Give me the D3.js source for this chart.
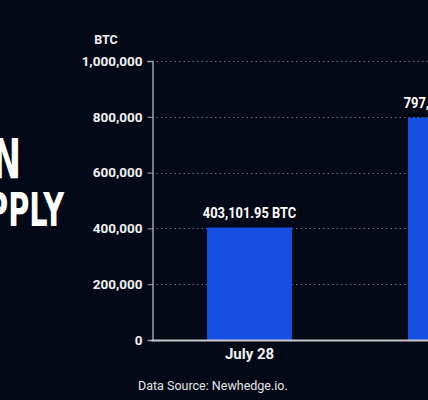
<!DOCTYPE html>
<html>
<head>
<meta charset="utf-8">
<script src="https://cdn.jsdelivr.net/npm/d3@7"></script>
<style>
  html, body { margin: 0; padding: 0; background: #040917; overflow: hidden; }
  svg { display: block; }
</style>
</head>
<body>
<svg id="chart" width="428" height="400"></svg>
<script>
'use strict';

// data
var categories = ['July 28', 'Today'];
var supply = [403101.95, 797000];
var yTicks = [0, 200000, 400000, 600000, 800000, 1000000];
var titleLines = ['BITCOIN', 'SUPPLY'];

var svg = d3.select('#chart');
var W = 428, H = 400;

svg.append('rect').attr('width', W).attr('height', H).attr('fill', '#040917');

var y = d3.scaleLinear().domain([0, 1000000]).range([340, 61]);
var x = d3.scaleBand().domain(categories)
	.range([152, 548]).paddingInner(0.577).paddingOuter(0.274);

var fmt = d3.format(',');
var fmtVal = d3.format(',.2f');

// big title, mostly cut off on the left (squeezed to look condensed)
svg.append('text')
	.attr('transform', 'translate(21,178) scale(0.62,1)')
	.attr('text-anchor', 'end')
	.style('font-family', '"DejaVu Sans", sans-serif')
	.style('font-weight', 700).style('font-size', '55px')
	.attr('fill', '#ffffff')
	.text(titleLines[0]);
svg.append('text')
	.attr('transform', 'translate(64,226) scale(0.62,1)')
	.attr('text-anchor', 'end')
	.style('font-family', '"DejaVu Sans", sans-serif')
	.style('font-weight', 700).style('font-size', '46.5px')
	.attr('fill', '#ffffff')
	.text(titleLines[1]);

// dotted grid
svg.append('g').selectAll('line')
	.data(yTicks.filter(function (d) { return d > 0; }))
	.join('line')
	.attr('x1', 152).attr('x2', W)
	.attr('y1', function (d) { return Math.round(y(d)) + 0.5; })
	.attr('y2', function (d) { return Math.round(y(d)) + 0.5; })
	.attr('stroke', '#6b6f7a').attr('stroke-width', 1)
	.attr('stroke-dasharray', '1.5,3');

// y axis
var yAxis = svg.append('g')
	.attr('transform', 'translate(152.5,0)')
	.call(d3.axisLeft(y).tickValues(yTicks).tickFormat(fmt).tickSize(5).tickPadding(5));
yAxis.select('.domain').attr('stroke', '#a0a0a4').attr('stroke-width', 1.5);
yAxis.selectAll('.tick line').attr('stroke', '#a0a0a4')
	.attr('display', function (d) { return d === 0 ? 'none' : null; });
yAxis.selectAll('.tick text')
	.attr('fill', '#f2f2f2')
	.style('font-family', 'Roboto, sans-serif')
	.style('font-weight', 700).style('font-size', '13.5px');

svg.append('text')
	.attr('x', 106).attr('y', 44)
	.attr('text-anchor', 'middle')
	.attr('fill', '#f2f2f2')
	.style('font-family', 'Roboto, sans-serif')
	.style('font-weight', 700).style('font-size', '12.5px')
	.text('BTC');

// bars
svg.append('g').selectAll('rect')
	.data(supply)
	.join('rect')
	.attr('x', function (d, i) { return x(categories[i]); })
	.attr('width', x.bandwidth())
	.attr('y', function (d) { return y(d); })
	.attr('height', function (d) { return y(0) - y(d); })
	.attr('fill', '#1450e2');

// value labels (slightly condensed)
svg.append('g').selectAll('text')
	.data(supply)
	.join('text')
	.attr('transform', function (d, i) {
		return 'translate(' + (x(categories[i]) + x.bandwidth() / 2) + ',' + (y(d) - 10) + ') scale(0.86,1)';
	})
	.attr('text-anchor', 'middle')
	.attr('fill', '#ffffff')
	.style('font-family', 'Roboto, sans-serif')
	.style('font-weight', 700).style('font-size', '15px')
	.text(function (d) { return fmtVal(d) + ' BTC'; });

// baseline
svg.append('line')
	.attr('x1', 151.5).attr('x2', W)
	.attr('y1', 340.5).attr('y2', 340.5)
	.attr('stroke', '#c8c8cc').attr('stroke-width', 2);

// x labels
svg.append('g').selectAll('text')
	.data(categories)
	.join('text')
	.attr('x', function (d) { return x(d) + x.bandwidth() / 2; })
	.attr('y', 359)
	.attr('text-anchor', 'middle')
	.attr('fill', '#f2f2f2')
	.style('font-family', 'Roboto, sans-serif')
	.style('font-weight', 700).style('font-size', '15px')
	.text(function (d) { return d; });

svg.append('text')
	.attr('x', 138).attr('y', 390)
	.attr('fill', '#e6e6e6')
	.style('font-family', 'Roboto, sans-serif')
	.style('font-size', '12.5px')
	.text('Data Source: Newhedge.io.');
</script>
</body>
</html>
